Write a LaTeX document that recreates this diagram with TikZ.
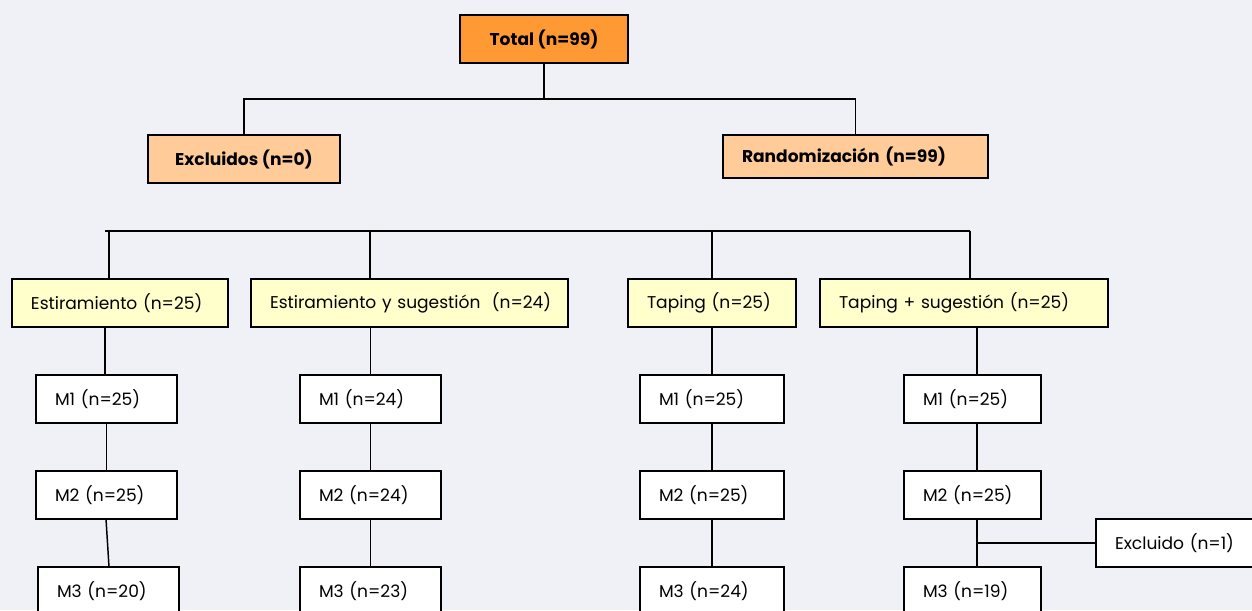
\documentclass[tikz,border=0pt]{standalone}
\usepackage{fontspec}
\setmainfont{Poppins}
\definecolor{bgc}{HTML}{F0F0F7}
\definecolor{orangec}{HTML}{FF9933}
\definecolor{lorangec}{HTML}{FFCC99}
\definecolor{yellowc}{HTML}{FFFFCC}
\begin{document}
\begin{tikzpicture}[x=0.75pt,y=-0.75pt,
  box/.style={draw=black,line width=1.5pt,inner ysep=0pt,minimum height=36pt,font=\fontsize{12.8}{15}\selectfont},
  lbox/.style={box,inner xsep=14pt,text width=(#1-38)*0.75pt,align=left},
  cbox/.style={box,inner xsep=0pt,minimum width=#1*0.75pt},
  topbox/.style={cbox=#1,fill=orangec,font=\fontsize{12.8}{15}\selectfont\bfseries},
  sidebox/.style={cbox=#1,fill=lorangec,font=\fontsize{12.8}{15}\selectfont\bfseries},
  grpbox/.style={lbox=#1,fill=yellowc},
  mbox/.style={lbox=#1,fill=white},
  conn/.style={line width=1.1pt,black}]
\useasboundingbox (0,0) rectangle (1252,610);
\fill[bgc] (0,0) rectangle (1252,610);
\clip (0,0) rectangle (1252,610);
% top level
\node[topbox=168] (tot) at (544,39) {Total (n=99)};
\node[sidebox=192] (exc) at (244,159) {Excluidos (n=0)};
\node[lbox=265,fill=lorangec,minimum height=32.25pt,font=\fontsize{12.8}{15}\selectfont\bfseries] (ran) at (855.5,156.5) {Randomizaci\'on (n=99)};
\coordinate (j1) at (544,99);
\draw[conn] (tot.south) -- (j1);
\draw[conn] (exc.north) |- (j1) -| (ran.north);
% groups
\node[grpbox=216] (g1) at (120,303) {Estiramiento (n=25)};
\node[grpbox=317] (g2) at (409.5,303) {\mbox{Estiramiento y sugesti\'on\ \ (n=24)}};
\node[grpbox=168] (g3) at (712,303) {Taping (n=25)};
\node[grpbox=288] (g4) at (964,303) {Taping + sugesti\'on (n=25)};
\coordinate (h0) at (105,231);
\coordinate (h1) at (109,231);
\coordinate (h2) at (370,231);
\coordinate (h3) at (712,231);
\coordinate (h4) at (970,231);
\draw[conn] (h0) -- (h4);
\draw[conn] (h1) -- (h1 |- g1.north);
\draw[conn] (h2) -- (h2 |- g2.north);
\draw[conn] (h3) -- (h3 |- g3.north);
\draw[conn] (h4) -- (h4 |- g4.north);
% column 1
\node[mbox=141] (a1) at (106.5,399) {M1 (n=25)};
\node[mbox=141] (a2) at (106.5,495) {M2 (n=25)};
\node[mbox=141] (a3) at (108.5,591) {M3 (n=20)};
% column 2
\node[mbox=141] (b1) at (370.5,399) {M1 (n=24)};
\node[mbox=141] (b2) at (370.5,495) {M2 (n=24)};
\node[mbox=141] (b3) at (370.5,591) {M3 (n=23)};
% column 3
\node[mbox=144] (c1) at (712,399) {M1 (n=25)};
\node[mbox=144] (c2) at (712,495) {M2 (n=25)};
\node[mbox=144] (c3) at (712,591) {M3 (n=24)};
% column 4
\node[mbox=137] (d1) at (972.5,399) {M1 (n=25)};
\node[mbox=137] (d2) at (972.5,495) {M2 (n=25)};
\node[mbox=137] (d3) at (972.5,591) {M3 (n=19)};
\node[mbox=160] (ex1) at (1176,543) {Excluido (n=1)};
% column connectors
\coordinate (p1) at (105,327);
\coordinate (q1) at (106,519);
\coordinate (r1) at (109,567);
\draw[conn] (p1) -- (p1 |- a1.north);
\draw[conn] (a1.south) -- (a2.north);
\draw[conn] (q1) -- (r1);
\draw[conn] (g2.south -| b1.north) -- (b1.north);
\draw[conn] (b1.south) -- (b2.north);
\draw[conn] (b2.south) -- (b3.north);
\draw[conn] (c1.north |- g3.south) -- (c1.north);
\draw[conn] (c1.south) -- (c2.north);
\draw[conn] (c2.south) -- (c3.north);
\coordinate (k4) at (977,543);
\coordinate (k0) at (977,327);
\draw[conn] (k0) -- (k0 |- d1.north);
\draw[conn] (k0 |- d1.south) -- (k0 |- d2.north);
\draw[conn] (k0 |- d2.south) -- (k0 |- d3.north);
\draw[conn] (k4) -- (ex1.west);
\end{tikzpicture}
\end{document}
